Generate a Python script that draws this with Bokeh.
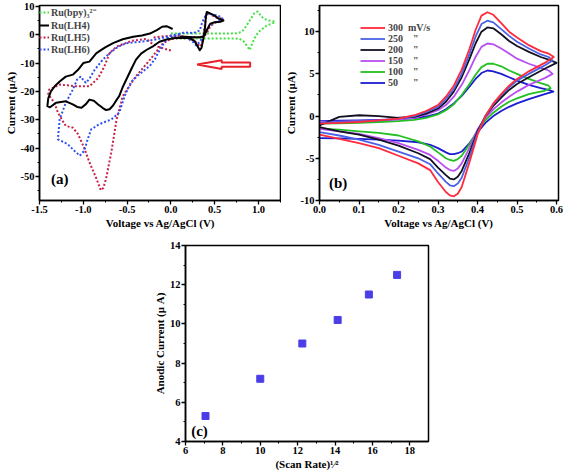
from bokeh.plotting import figure
from bokeh.models import Range1d, FixedTicker, Legend, LegendItem, Label, Spacer
from bokeh.layouts import row, column
from bokeh.embed import file_html
from bokeh.resources import INLINE

FONT = "Liberation Serif"

# ---------------- Panel (a) data ----------------
A_XTICKS = [-1.5, -1.0, -0.5, 0.0, 0.5, 1.0]
A_XLABELS = ["-1.5", "-1.0", "-0.5", "0.0", "0.5", "1.0"]
A_YTICKS = [10, 0, -10, -20, -30, -40, -50]
A_YLABELS = ["10", "0", "-10", "-20", "-30", "-40", "-50"]

bpy_x = [0.0, 0.2, 0.4, 0.6, 0.75, 0.81, 0.86, 0.91, 0.95, 0.99, 1.02, 1.06, 1.12, 1.19,
         1.15, 1.1, 1.05, 1.0, 0.96, 0.93, 0.9, 0.87, 0.83, 0.78, 0.6, 0.4, 0.2, 0.0]
bpy_y = [0.4, 0.4, 0.4, 0.4, 0.5, 1.0, 3.0, 5.5, 7.5, 8.2, 7.0, 5.6, 5.0, 4.6,
         3.8, 3.4, 2.2, 1.0, -1.0, -3.0, -5.4, -4.0, -2.3, -1.4, -1.3, -1.3, -1.3, -1.3]

lh4_x = [0.02, -0.05, -0.1, -0.16, -0.24, -0.33, -0.43, -0.55, -0.66, -0.75, -0.85, -0.93,
         -1.0, -1.06, -1.12, -1.2, -1.27, -1.32, -1.37, -1.4, -1.41, -1.38, -1.31, -1.2,
         -1.12, -1.07, -1.02, -0.97, -0.93, -0.88, -0.83, -0.78, -0.74, -0.7, -0.66, -0.62,
         -0.59, -0.55, -0.51, -0.45, -0.4, -0.34, -0.28, -0.2, -0.13, -0.05, 0.05, 0.15,
         0.22, 0.27, 0.3, 0.33, 0.35, 0.37, 0.39, 0.4, 0.41, 0.44, 0.49, 0.55, 0.6, 0.57,
         0.5, 0.45, 0.41, 0.38, 0.33, 0.27, 0.2, 0.1]
lh4_y = [2.0, 3.0, 2.8, 1.6, 0.4, -0.3, -0.7, -1.6, -3.0, -4.5, -6.5, -9.5,
         -10.0, -12.4, -14.1, -14.8, -16.5, -18.0, -20.0, -22.5, -25.2, -25.6, -24.0, -23.5,
         -24.6, -25.5, -25.8, -24.5, -22.9, -23.3, -24.6, -25.8, -26.6, -26.3, -25.0, -23.0,
         -21.7, -18.5, -15.9, -12.0, -8.9, -6.7, -5.4, -4.0, -2.5, -1.7, -1.2, -1.1,
         -1.3, -2.2, -3.8, -5.5, -4.6, -1.5, 2.5, 6.5, 8.0, 7.6, 6.9, 5.6, 5.0, 4.6,
         4.4, 3.9, 1.6, -0.5, -0.9, -0.9, -0.8, -0.6]

lh5_x = [0.0, -0.08, -0.15, -0.22, -0.28, -0.45, -0.62, -0.7, -0.76, -0.83, -0.93, -1.08,
         -1.27, -1.39, -1.4, -1.33, -1.29, -1.2, -1.12, -1.06, -1.0, -0.93, -0.85, -0.8,
         -0.77, -0.74, -0.68, -0.62, -0.55, -0.4, -0.24, -0.09, 0.0, 0.1, 0.2, 0.26, 0.3,
         0.33, 0.35, 0.37, 0.39, 0.41, 0.43, 0.47, 0.52, 0.6, 0.56, 0.5, 0.45, 0.41, 0.37,
         0.3, 0.2, 0.1, 0.0, -0.1, -0.2]
lh5_y = [-5.6, -4.9, -4.2, -3.0, -1.5, -2.2, -4.2, -6.5, -11.2, -15.3, -18.2, -18.2,
         -17.6, -19.4, -21.0, -24.0, -27.5, -32.2, -32.8, -35.1, -39.2, -45.0, -50.8, -54.9,
         -54.0, -50.8, -41.5, -29.9, -21.7, -14.7, -8.9, -3.0, -1.6, -1.2, -1.3, -2.0, -3.0,
         -4.2, -3.5, -0.5, 4.0, 7.5, 7.8, 6.8, 6.0, 5.6, 4.8, 4.2, 3.0, 0.5, -0.8,
         -1.0, -0.8, -0.5, -0.4, -0.6, -1.0]

lh6_x = [0.1, 0.0, -0.1, -0.21, -0.35, -0.51, -0.6, -0.68, -0.78, -0.87, -0.93, -0.97,
         -1.0, -1.03, -1.07, -1.12, -1.2, -1.27, -1.29, -1.25, -1.18, -1.1, -1.04, -0.99,
         -0.95, -0.91, -0.82, -0.68, -0.59, -0.52, -0.45, -0.38, -0.3, -0.24, -0.18, -0.13,
         -0.07, -0.03, 0.05, 0.15, 0.26, 0.33, 0.36, 0.4, 0.43, 0.5, 0.58, 0.59, 0.52,
         0.44, 0.38, 0.33, 0.29, 0.25, 0.18, 0.1]
lh6_y = [0.3, -0.3, -1.2, -1.9, -2.5, -3.0, -4.2, -6.0, -8.9, -12.4, -15.5, -17.0,
         -16.0, -14.8, -15.8, -19.4, -24.0, -29.9, -36.9, -37.5, -38.6, -41.0, -42.7, -41.0,
         -36.9, -33.4, -31.6, -29.9, -27.5, -21.0, -16.5, -14.5, -12.5, -11.0, -8.5, -5.5,
         -2.5, -1.2, -0.5, 0.8, 0.6, 1.5, 4.5, 7.0, 7.3, 7.0, 6.2, 5.5, 4.5,
         3.3, 0.0, -2.5, -3.8, -2.5, -1.0, -0.8]

A_SERIES = ["Ru(bpy)\u2083\u00b2\u207b", "Ru(LH4)", "Ru(LH5)", "Ru(LH6)"]
ARROW_X = [0.30, 0.58, 0.58, 0.905, 0.905, 0.58, 0.58]
ARROW_Y = [-10.5, -9.0, -9.8, -9.8, -11.3, -11.3, -12.1]

# ---------------- Panel (b) data ----------------
B_XTICKS = [0.0, 0.1, 0.2, 0.3, 0.4, 0.5, 0.6]
B_XLABELS = ["0.0", "0.1", "0.2", "0.3", "0.4", "0.5", "0.6"]
B_YTICKS = [-10, -5, 0, 5, 10]
B_YLABELS = ["-10", "-5", "0", "5", "10"]

XF = [0.0, 0.05, 0.1, 0.15, 0.2, 0.24, 0.27, 0.3, 0.32, 0.34, 0.36, 0.38, 0.395, 0.41,
      0.425, 0.44, 0.46, 0.48, 0.5, 0.53, 0.56, 0.58]
XR = [0.57, 0.55, 0.53, 0.5, 0.48, 0.46, 0.44, 0.42, 0.40, 0.38, 0.36, 0.35, 0.34, 0.33,
      0.32, 0.30, 0.28, 0.25, 0.2, 0.15, 0.1, 0.05, 0.0]

scan_rates = ["300", "250", "200", "150", "100", "50"]
b_legend_labels = ["300\u00a0\u00a0mV/s", "250\u00a0\u00a0\u00a0\u00a0\"", "200\u00a0\u00a0\u00a0\u00a0\"",
                   "150\u00a0\u00a0\u00a0\u00a0\"", "100\u00a0\u00a0\u00a0\u00a0\"",
                   "50\u00a0\u00a0\u00a0\u00a0\u00a0\u00a0\""]
b_colors = ["#ff2a3c", "#4a63e6", "#111122", "#b94ff0", "#22c022", "#1c1cd0"]

fwd_300 = [-0.9, -0.8, -0.7, -0.5, -0.3, 0.1, 0.6, 1.3, 2.3, 3.6, 5.5, 8.0, 10.2, 11.9, 12.3, 12.0, 11.0, 10.0, 9.3, 8.4, 7.7, 7.4]
fwd_250 = [-0.8, -0.7, -0.6, -0.5, -0.3, 0.0, 0.5, 1.1, 2.0, 3.2, 5.0, 7.4, 9.4, 10.9, 11.3, 11.1, 10.3, 9.5, 8.8, 8.0, 7.3, 7.0]
fwd_200 = [-1.1, -0.1, 0.1, 0.0, -0.2, -0.1, 0.3, 0.9, 1.7, 2.9, 4.6, 6.8, 8.6, 10.0, 10.5, 10.4, 9.7, 8.9, 8.3, 7.6, 7.0, 6.7]
fwd_150 = [-0.7, -0.65, -0.6, -0.5, -0.4, -0.2, 0.2, 0.7, 1.3, 2.3, 3.7, 5.5, 7.0, 8.2, 8.6, 8.5, 8.0, 7.4, 6.8, 6.2, 5.7, 5.4]
fwd_100 = [-0.9, -0.85, -0.8, -0.7, -0.6, -0.45, -0.2, 0.2, 0.7, 1.4, 2.5, 3.8, 4.9, 5.8, 6.2, 6.2, 5.9, 5.4, 5.0, 4.4, 3.9, 3.6]
fwd_50 = [-0.6, -0.55, -0.5, -0.45, -0.4, -0.25, -0.05, 0.3, 0.8, 1.5, 2.4, 3.5, 4.4, 5.1, 5.4, 5.3, 5.0, 4.6, 4.2, 3.7, 3.3, 3.1]

end_x = [0.593, 0.59, 0.6, 0.59, 0.585, 0.592]
end_y = [7.0, 6.6, 6.3, 5.0, 3.3, 2.9]

rev_300 = [6.3, 5.8, 5.3, 4.4, 3.6, 2.6, 1.5, 0.0, -2.2, -5.4, -8.4, -9.2, -9.5, -9.4, -9.0, -7.8, -6.4, -5.6, -4.7, -3.8, -3.2, -2.7, -2.2]
rev_250 = [6.0, 5.5, 5.0, 4.2, 3.4, 2.5, 1.4, 0.0, -2.0, -4.8, -7.3, -8.0, -8.3, -8.2, -7.8, -6.8, -5.7, -5.0, -4.2, -3.4, -2.8, -2.3, -1.9]
rev_200 = [5.6, 5.1, 4.6, 3.8, 3.1, 2.2, 1.2, 0.0, -1.8, -4.3, -6.5, -7.2, -7.5, -7.4, -7.0, -6.1, -5.1, -4.4, -3.5, -2.8, -2.2, -1.8, -1.3]
rev_150 = [4.5, 4.1, 3.7, 2.9, 2.3, 1.6, 0.8, -0.2, -1.6, -3.7, -5.6, -6.2, -6.5, -6.4, -6.1, -5.3, -4.6, -4.0, -3.2, -2.6, -2.1, -1.8, -1.5]
rev_100 = [3.0, 2.8, 2.6, 2.1, 1.7, 1.1, 0.4, -0.5, -1.7, -3.3, -4.7, -5.1, -5.3, -5.2, -5.0, -4.3, -3.6, -3.0, -2.3, -2.0, -1.8, -1.6, -1.5]
rev_50 = [2.6, 2.3, 2.0, 1.5, 1.1, 0.6, 0.0, -0.8, -1.9, -3.2, -4.2, -4.4, -4.5, -4.5, -4.3, -3.8, -3.4, -3.1, -2.9, -2.8, -2.7, -2.65, -2.6]

# ---------------- Panel (c) data ----------------
sqrt_rate = [7.07, 10.0, 12.25, 14.14, 15.81, 17.32]
anodic_current = [5.3, 7.2, 9.0, 10.2, 11.5, 12.5]
C_XTICKS = [6, 8, 10, 12, 14, 16, 18]
C_XLABELS = ["6", "8", "10", "12", "14", "16", "18"]
C_YTICKS = [4, 6, 8, 10, 12, 14]
C_YLABELS = ["4", "6", "8", "10", "12", "14"]


def style(p, xt, xminor, xl, yt, yminor, yl):
    p.xaxis.ticker = FixedTicker(ticks=xt, minor_ticks=xminor)
    p.yaxis.ticker = FixedTicker(ticks=yt, minor_ticks=yminor)
    p.xaxis.major_label_overrides = {t: l for t, l in zip(xt, xl)}
    p.yaxis.major_label_overrides = {t: l for t, l in zip(yt, yl)}
    for ax in (p.xaxis[0], p.yaxis[0]):
        ax.axis_line_width = 1.5
        ax.axis_line_color = "black"
        ax.major_tick_line_width = 1.3
        ax.major_tick_line_color = "black"
        ax.minor_tick_line_color = "black"
        ax.major_tick_out = 4
        ax.major_tick_in = 0
        ax.minor_tick_out = 2
        ax.minor_tick_in = 0
        ax.major_label_text_font = FONT
        ax.major_label_text_font_style = "bold"
        ax.major_label_text_font_size = "10.5px"
        ax.major_label_text_color = "black"
        ax.major_label_standoff = 1
        ax.axis_label_text_font = FONT
        ax.axis_label_text_font_style = "bold"
        ax.axis_label_text_font_size = "11px"
        ax.axis_label_text_color = "black"
        ax.axis_label_standoff = 1
    p.xgrid.visible = False
    p.ygrid.visible = False
    p.outline_line_color = "black"
    p.outline_line_width = 1.5
    p.outline_line_alpha = 1.0


def panel_label(p, x, y, text):
    p.add_layout(Label(x=x, y=y, text=text, text_font=FONT, text_font_style="bold",
                       text_font_size="15px", text_align="center", text_baseline="middle",
                       text_color="black"))


# ---------------- Panel (a) ----------------
pa = figure(width=281, height=236, x_range=Range1d(-1.5, 1.263), y_range=Range1d(-58.5, 10.3),
            output_backend="svg", toolbar_location=None,
            min_border_left=39, min_border_right=0, min_border_top=5, min_border_bottom=34)
style(pa, A_XTICKS, [-1.25, -0.75, -0.25, 0.25, 0.75, 1.25], A_XLABELS,
      A_YTICKS, [5, -5, -15, -25, -35, -45, -55], A_YLABELS)
pa.xaxis.axis_label = "Voltage vs Ag/AgCl (V)"
pa.yaxis.axis_label = "Current (\u03bcA)"

pa.patch(ARROW_X, ARROW_Y, fill_color="white", line_color="#e8202a", line_width=2)
r_g = pa.line(bpy_x, bpy_y, line_color="#44e044", line_width=2, line_dash="2 2")
r_r = pa.line(lh5_x, lh5_y, line_color="#c8224a", line_width=2, line_dash="2 2")
r_b = pa.line(lh6_x, lh6_y, line_color="#3050f0", line_width=2, line_dash="2 2")
r_k = pa.line(lh4_x, lh4_y, line_color="black", line_width=2, line_join="round")
leg_a = Legend(items=[LegendItem(label=A_SERIES[0], renderers=[r_g]),
                      LegendItem(label=A_SERIES[1], renderers=[r_k]),
                      LegendItem(label=A_SERIES[2], renderers=[r_r]),
                      LegendItem(label=A_SERIES[3], renderers=[r_b])],
               location="top_left", margin=0, padding=3, spacing=0,
               glyph_width=10, glyph_height=12, label_height=12, label_standoff=2,
               label_text_font=FONT, label_text_font_style="bold", label_text_font_size="10px",
               background_fill_alpha=0, border_line_color=None)
pa.add_layout(leg_a)
panel_label(pa, -1.27, -50.8, "(a)")

# ---------------- Panel (b) ----------------
pb = figure(width=284, height=236, x_range=Range1d(0, 0.605), y_range=Range1d(-10, 13.1),
            output_backend="svg", toolbar_location=None,
            min_border_left=35, min_border_right=7, min_border_top=5, min_border_bottom=36)
style(pb, B_XTICKS, [0.05, 0.15, 0.25, 0.35, 0.45, 0.55], B_XLABELS,
      B_YTICKS, [-7.5, -2.5, 2.5, 7.5, 12.5], B_YLABELS)
pb.xaxis.axis_label = "Voltage vs Ag/AgCl (V)"
pb.yaxis.axis_label = "Current (\u03bcA)"

fwds = [fwd_300, fwd_250, fwd_200, fwd_150, fwd_100, fwd_50]
revs = [rev_300, rev_250, rev_200, rev_150, rev_100, rev_50]
renderers_b = {}
for i in reversed(range(6)):
    xs = XF + [end_x[i]] + XR
    ys = fwds[i] + [end_y[i]] + revs[i]
    renderers_b[i] = pb.line(xs, ys, line_color=b_colors[i], line_width=1.8, line_join="round")
leg_b = Legend(items=[LegendItem(label=b_legend_labels[i], renderers=[renderers_b[i]]) for i in range(6)],
               location=(41, 112), margin=0, padding=0, spacing=0,
               glyph_width=25, glyph_height=11, label_height=11, label_standoff=3,
               label_text_font=FONT, label_text_font_style="bold", label_text_font_size="10px",
               background_fill_alpha=0, border_line_color=None)
pb.add_layout(leg_b)
panel_label(pb, 0.047, -7.9, "(b)")

# ---------------- Panel (c) ----------------
pc = figure(width=290, height=239, x_range=Range1d(6, 19), y_range=Range1d(4, 14),
            output_backend="svg", toolbar_location=None,
            min_border_left=35, min_border_right=12, min_border_top=9, min_border_bottom=34)
style(pc, C_XTICKS, [7, 9, 11, 13, 15, 17], C_XLABELS, C_YTICKS, [5, 7, 9, 11, 13], C_YLABELS)
pc.yaxis.axis_label = "Anodic Current (\u03bc A)"
pc.xaxis.axis_label = "(Scan Rate)\u00b9\u2044\u00b2"
pc.scatter(sqrt_rate, anodic_current, marker="square", size=7, fill_color="#4b3ee6",
           line_color="#4b3ee6")
panel_label(pc, 6.75, 4.56, "(c)")

layout = column(row(pa, pb), row(Spacer(width=150, height=239), pc))

open("out.html", "w").write(file_html(layout, INLINE))
